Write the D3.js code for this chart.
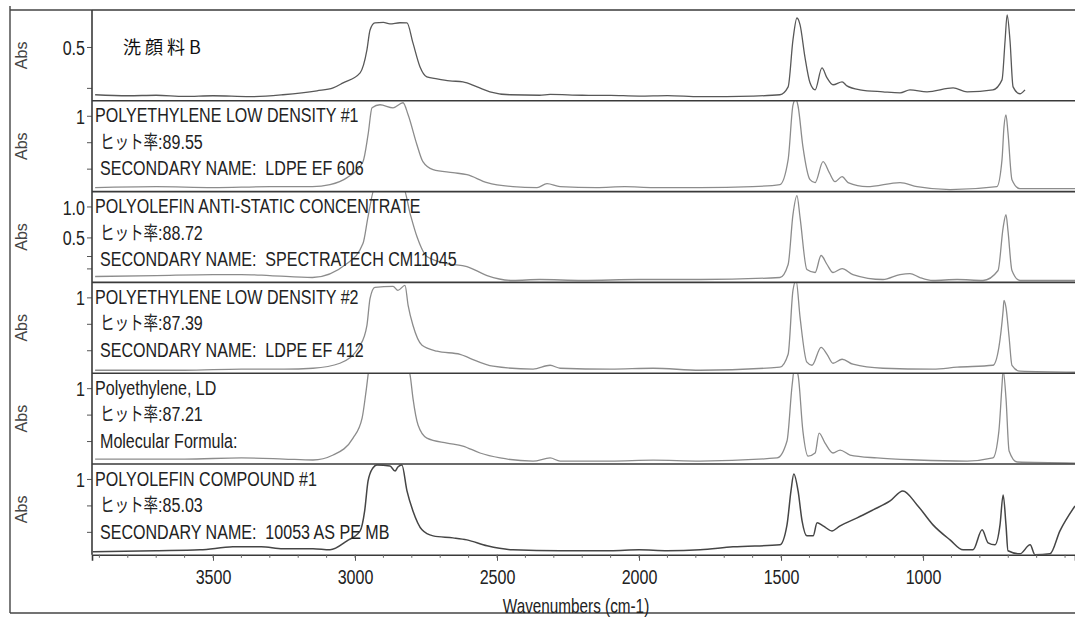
<!DOCTYPE html>
<html>
<head>
<meta charset="utf-8">
<script src="https://cdn.jsdelivr.net/npm/d3@7"></script>
<style>
  body { margin: 0; background: #fff; }
  svg { display: block; }
  .lab { font-family: "Liberation Sans", Arial, "Noto Sans CJK JP", sans-serif; fill: #222; }
  .abs { font-family: "Liberation Sans", Arial, sans-serif; fill: #444; font-size: 16px; }
</style>
</head>
<body>
<svg id="chart" width="1075" height="618"></svg>
<script>
// ---- data ----
var wavenumberTicks = [3500, 3000, 2500, 2000, 1500, 1000];
var minorTicks = d3.range(3900, 400, -100);

var titles = ["洗顔料B", "POLYETHYLENE LOW DENSITY #1", "POLYOLEFIN ANTI-STATIC CONCENTRATE",
              "POLYETHYLENE LOW DENSITY #2", "Polyethylene, LD", "POLYOLEFIN COMPOUND #1"];
var hitRates = [null, "89.55", "88.72", "87.39", "87.21", "85.03"];
var subLines = [null, "SECONDARY NAME:  LDPE EF 606", "SECONDARY NAME:  SPECTRATECH CM11045",
                "SECONDARY NAME:  LDPE EF 412", "Molecular Formula:", "SECONDARY NAME:  10053 AS PE MB"];

var yTickValues = [[0.5, 0.25], [1, 0.75, 0.5], [1.0, 0.5, 0.2, 0], [1, 0.75, 0.5], [1, 0.75, 0.5], [1, 0.75, 0.5]];
var yTickLabels = [["0.5"], ["1"], ["1.0", "0.5"], ["1"], ["1"], ["1"]];

// [wavenumber, absorbance]
var sampleB = [[3915,0.208],[3800,0.202],[3700,0.205],[3600,0.198],[3500,0.202],[3370,0.196],[3254,0.208],
  [3134,0.232],[3077,0.250],[3042,0.281],[2982,0.342],[2958,0.482],[2947,0.604],[2930,0.647],[2900,0.650],
  [2877,0.641],[2842,0.648],[2817,0.647],[2796,0.525],[2771,0.378],[2747,0.317],[2711,0.305],[2666,0.293],
  [2620,0.287],[2570,0.256],[2525,0.226],[2454,0.208],[2350,0.205],[2313,0.21],[2200,0.205],[2100,0.204],
  [2000,0.200],[1900,0.203],[1785,0.196],[1600,0.200],[1504,0.208],[1475,0.256],[1458,0.543],[1444,0.677],
  [1433,0.635],[1416,0.44],[1398,0.281],[1380,0.238],[1356,0.372],[1338,0.311],[1317,0.269],[1285,0.287],
  [1268,0.262],[1222,0.238],[1141,0.226],[1081,0.220],[1046,0.238],[986,0.226],[894,0.25],[845,0.226],
  [754,0.238],[722,0.299],[711,0.543],[704,0.696],[694,0.543],[683,0.256],[659,0.214],[641,0.238]];

var ldpeEF606 = [[3915,0.321],[3700,0.33],[3500,0.321],[3300,0.33],[3150,0.33],[3088,0.349],[3028,0.415],
  [2972,0.566],[2954,0.821],[2940,1.075],[2912,1.104],[2866,1.075],[2831,1.123],[2813,1.009],[2782,0.726],
  [2761,0.566],[2725,0.491],[2655,0.462],[2606,0.443],[2535,0.368],[2444,0.33],[2359,0.321],[2324,0.358],
  [2278,0.33],[2150,0.321],[2050,0.33],[1950,0.321],[1785,0.321],[1600,0.33],[1504,0.349],[1475,0.585],
  [1458,1.1],[1448,1.16],[1440,1.09],[1423,0.708],[1398,0.396],[1380,0.368],[1352,0.566],[1330,0.462],
  [1310,0.377],[1285,0.424],[1264,0.368],[1197,0.33],[1081,0.368],[1021,0.33],[905,0.302],[740,0.33],
  [722,0.585],[715,0.896],[708,1.009],[701,0.84],[687,0.396],[659,0.311],[465,0.311]];

var spectratechCM11045 = [[3915,-0.131],[3700,-0.115],[3500,-0.099],[3400,-0.099],[3300,-0.115],[3150,-0.147],
  [3028,0.079],[2972,0.401],[2954,0.837],[2930,1.3],[2830,1.3],[2806,0.885],[2782,0.514],[2747,0.192],
  [2676,0.079],[2606,0.03],[2535,-0.115],[2444,-0.195],[2350,-0.179],[2200,-0.195],[2000,-0.179],
  [1785,-0.179],[1504,-0.147],[1475,0.063],[1458,0.869],[1444,1.175],[1433,0.821],[1409,-0.018],
  [1380,-0.066],[1359,0.208],[1338,0.063],[1317,-0.066],[1285,-0.002],[1247,-0.099],[1141,-0.179],
  [1081,-0.099],[1046,-0.083],[1011,-0.147],[965,-0.195],[880,-0.179],[789,-0.195],[736,-0.034],
  [718,0.659],[708,0.869],[701,0.611],[687,-0.034],[659,-0.195],[465,-0.195]];

var ldpeEF412 = [[3915,0.311],[3600,0.311],[3400,0.321],[3250,0.321],[3148,0.33],[3053,0.377],[2982,0.547],
  [2958,0.736],[2947,0.99],[2930,1.094],[2866,1.104],[2849,1.066],[2824,1.113],[2813,0.925],[2796,0.736],
  [2764,0.547],[2711,0.491],[2630,0.462],[2595,0.424],[2514,0.349],[2373,0.321],[2313,0.358],[2278,0.33],
  [2100,0.321],[1950,0.33],[1785,0.311],[1504,0.34],[1475,0.462],[1458,1.066],[1447,1.16],[1433,0.811],
  [1409,0.387],[1391,0.358],[1359,0.528],[1338,0.462],[1317,0.377],[1285,0.415],[1247,0.368],[1141,0.33],
  [965,0.321],[880,0.34],[754,0.358],[733,0.528],[718,0.877],[715,0.972],[708,0.906],[697,0.623],
  [687,0.358],[659,0.302],[465,0.292]];

var polyethyleneLD = [[3915,0.33],[3600,0.33],[3400,0.34],[3250,0.33],[3148,0.321],[3077,0.368],[3007,0.528],
  [2975,0.717],[2961,0.972],[2950,1.2],[2930,1.35],[2850,1.35],[2815,1.2],[2806,1.123],[2796,0.906],
  [2778,0.651],[2747,0.528],[2676,0.481],[2620,0.453],[2560,0.387],[2489,0.34],[2373,0.311],[2313,0.34],
  [2278,0.311],[2100,0.311],[1950,0.32],[1785,0.311],[1514,0.34],[1479,0.5],[1461,1.028],[1452,1.2],
  [1440,1.123],[1423,0.594],[1405,0.358],[1380,0.387],[1366,0.575],[1345,0.481],[1317,0.387],[1292,0.415],
  [1257,0.368],[1162,0.34],[1021,0.321],[845,0.311],[754,0.34],[733,0.594],[722,1.028],[718,1.17],
  [708,0.906],[697,0.406],[669,0.302],[465,0.292]];

var compound10053 = [[3923,0.311],[3700,0.321],[3546,0.33],[3430,0.358],[3330,0.36],[3254,0.34],[3148,0.34],
  [3088,0.33],[3028,0.415],[2982,0.509],[2966,0.698],[2954,0.981],[2937,1.104],[2923,1.132],[2877,1.123],
  [2859,1.075],[2849,1.113],[2835,1.132],[2817,0.887],[2796,0.698],[2764,0.519],[2725,0.462],[2655,0.443],
  [2606,0.424],[2535,0.368],[2444,0.33],[2278,0.321],[2100,0.321],[2000,0.33],[1900,0.321],[1785,0.33],
  [1669,0.358],[1504,0.377],[1479,0.566],[1465,0.887],[1455,1.047],[1440,0.887],[1426,0.604],[1409,0.462],
  [1387,0.462],[1373,0.585],[1352,0.557],[1321,0.509],[1292,0.557],[1232,0.632],[1176,0.708],[1116,0.792],
  [1071,0.887],[1021,0.755],[965,0.566],[905,0.424],[859,0.33],[824,0.33],[792,0.519],[771,0.396],
  [747,0.377],[729,0.566],[718,0.849],[708,0.566],[701,0.321],[659,0.292],[623,0.377],[606,0.283],
  [553,0.292],[518,0.509],[465,0.745]];

var spectra = [sampleB, ldpeEF606, spectratechCM11045, ldpeEF412, polyethyleneLD, compound10053];

// ---- layout ----
var svg = d3.select("#chart");
var plotLeft = 92, plotRight = 1075, plotTop = 10, panelH = 90.8, nPanels = 6;
var plotBottom = plotTop + panelH * nPanels;
var squeeze = 0.765; // the printer font is a condensed one

// absorbance range shown in each panel (top, bottom)
var yDomains = [[0.726, 0.171], [1.1415, 0.283], [1.24, -0.226], [1.1415, 0.283], [1.1415, 0.283], [1.1415, 0.283]];
var traceColors = ["#585858", "#8c8c8c", "#8c8c8c", "#8c8c8c", "#8c8c8c", "#454545"];

var x = d3.scaleLinear().domain([3926, 465]).range([plotLeft, plotRight]);

function narrowText(parent, px, py, size) {
  return parent.append("text").attr("class", "lab")
    .attr("transform", "translate(" + px + "," + py + ") scale(" + squeeze + ",1)")
    .style("font-size", size + "px").style("white-space", "pre");
}

// outer frame of the printout
svg.append("line").attr("x1", 10).attr("x2", 10).attr("y1", 6).attr("y2", 613)
  .attr("stroke", "#444").attr("stroke-width", 1.4);
svg.append("line").attr("x1", 10).attr("x2", plotRight).attr("y1", 613).attr("y2", 613)
  .attr("stroke", "#444").attr("stroke-width", 1.4);
svg.append("line").attr("x1", 10).attr("x2", plotLeft).attr("y1", plotTop).attr("y2", plotTop)
  .attr("stroke", "#444").attr("stroke-width", 1.4);

var defs = svg.append("defs");

spectra.forEach(function(data, i) {
  var t = plotTop + i * panelH;
  var y = d3.scaleLinear().domain(yDomains[i]).range([t, t + panelH]);
  var g = svg.append("g");

  defs.append("clipPath").attr("id", "clip" + i)
    .append("rect").attr("x", plotLeft).attr("y", t).attr("width", plotRight - plotLeft).attr("height", panelH);

  // spectrum
  var line = d3.line()
    .x(function(d) { return x(d[0]); })
    .y(function(d) { return y(d[1]); })
    .curve(d3.curveMonotoneX);
  g.append("path")
    .datum(data)
    .attr("clip-path", "url(#clip" + i + ")")
    .attr("fill", "none")
    .attr("stroke", traceColors[i])
    .attr("stroke-width", i == 5 ? 1.5 : 1.3)
    .attr("d", line);

  // panel top rule
  g.append("line").attr("x1", plotLeft).attr("x2", plotRight).attr("y1", t).attr("y2", t)
    .attr("stroke", "#3a3a3a").attr("stroke-width", 1.6);

  // y ticks
  var yAxis = d3.axisLeft(y).tickValues(yTickValues[i]).tickSize(5)
    .tickFormat(function(d, k) { return yTickLabels[i][k] || ""; });
  var ya = g.append("g").attr("transform", "translate(" + plotLeft + ",0)").call(yAxis);
  ya.select(".domain").remove();
  ya.selectAll("line").attr("stroke", "#555");
  ya.selectAll("text").attr("class", "lab").style("font-size", "21px")
    .attr("x", -7 / squeeze).attr("dy", "0.36em").attr("transform", "scale(" + squeeze + ",1)");

  // Abs label
  g.append("text").attr("class", "abs")
    .attr("transform", "translate(27," + (t + panelH / 2) + ") rotate(-90)")
    .attr("text-anchor", "middle").text("Abs");

  // titles
  if (i == 0) {
    g.append("text").attr("x", 123).attr("y", t + 44)
      .style("font-family", "'Noto Sans CJK JP', sans-serif").style("font-size", "18px")
      .style("letter-spacing", "4px").attr("fill", "#111").text(titles[i]);
  } else {
    narrowText(g, 95, t + 21.5, 21).text(titles[i]);
    var hr = narrowText(g, 100, t + 48, 21);
    hr.append("tspan").style("font-family", "'Noto Sans CJK JP', sans-serif").style("font-size", "19px").text("ヒット率");
    hr.append("tspan").text(":" + hitRates[i]);
    narrowText(g, 100, t + 74.5, 21).text(subLines[i]);
  }
});

// left axis line
svg.append("line").attr("x1", plotLeft).attr("x2", plotLeft).attr("y1", plotTop).attr("y2", plotBottom)
  .attr("stroke", "#3a3a3a").attr("stroke-width", 1.6);

// bottom axis
var xa = svg.append("g").attr("transform", "translate(0," + plotBottom + ")")
  .call(d3.axisBottom(x).tickValues(wavenumberTicks).tickSize(6).tickFormat(d3.format("d")));
xa.select(".domain").attr("stroke", "#3a3a3a").attr("stroke-width", 1.6);
xa.selectAll("line").attr("stroke", "#555");
xa.selectAll("text").attr("class", "lab").style("font-size", "21px").attr("y", 14)
  .attr("transform", "scale(" + squeeze + ",1)");

svg.append("g").selectAll("line").data(minorTicks).enter().append("line")
  .attr("x1", function(d) { return x(d); }).attr("x2", function(d) { return x(d); })
  .attr("y1", plotBottom).attr("y2", plotBottom + 3).attr("stroke", "#666");

narrowText(svg, 576, plotBottom + 58, 20).attr("text-anchor", "middle").text("Wavenumbers (cm-1)");
</script>
</body>
</html>
